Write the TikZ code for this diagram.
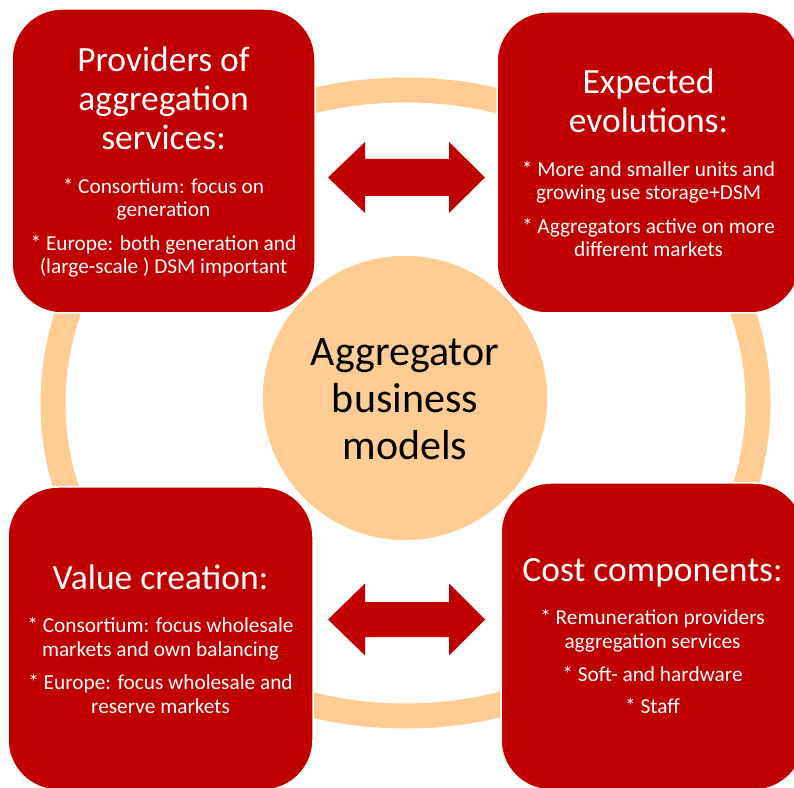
\documentclass[tikz,border=0pt]{standalone}
\usepackage{fontspec}
\setmainfont{Carlito}
\definecolor{boxred}{HTML}{C00000}
\definecolor{ringorange}{HTML}{FFCD93}
\begin{document}
\begin{tikzpicture}[x=1pt,y=1pt,
  redbox/.style={rectangle, rounded corners=50pt, fill=boxred, draw=white, line width=1.5pt, inner sep=0pt},
  titletext/.style={text=white, align=center, anchor=base, inner sep=0pt, font=\fontsize{35.5}{39}\selectfont},
  bodytext/.style={text=white, align=center, anchor=base, inner sep=0pt, font=\fontsize{21.3}{23.5}\selectfont},
  dblarrow/.style={fill=boxred}]
\useasboundingbox (0,0) rectangle (794,787);
\fill[white] (0,0) rectangle (794,787);
% ring
\draw[ringorange, line width=25pt] (405.5,384) ellipse [x radius=352.5, y radius=313];
% centre circle
\node[circle, fill=ringorange, draw=white, line width=1.5pt, minimum size=286pt, inner sep=0pt] (hub) at (405,389) {};
\node[anchor=base, align=center, inner sep=0pt, font=\fontsize{42}{47}\selectfont] (hubtext) at (405,327) {Aggregator\\business\\models};
% boxes
\node[redbox, minimum width=303pt, minimum height=304pt] (tl) at (163.5,626) {};
\node[redbox, minimum width=303pt, minimum height=301pt] (tr) at (648.5,624.5) {};
\node[redbox, minimum width=305pt, minimum height=303pt] (bl) at (160.5,148.5) {};
\node[redbox, minimum width=303pt, minimum height=307pt] (br) at (652.5,150.5) {};
% arrows
\fill[dblarrow] (328,609.5) -- (365,645) -- (365,628) -- (449,628) -- (449,645) -- (485,609.5) -- (449,574) -- (449,591) -- (365,591) -- (365,574) -- cycle;
\fill[dblarrow] (328,167.5) -- (365,203.5) -- (365,185) -- (449,185) -- (449,203.5) -- (485,167.5) -- (449,131.5) -- (449,150) -- (365,150) -- (365,131.5) -- cycle;
% texts (anchor base = baseline of the last line)
\node[titletext] (tlt) at (163.5,637) {Providers of\\aggregation\\services:};
\node[bodytext] (tlb) at (163.5,513) {* Consortium: focus on\\generation\\[10pt]* Europe: both generation and\\(large-scale ) DSM important};
\node[titletext] (trt) at (648.5,654) {Expected\\evolutions:};
\node[bodytext] (trb) at (648.5,530) {* More and smaller units and\\growing use storage+DSM\\[10pt]* Aggregators active on more\\different markets};
\node[titletext] (blt) at (160.5,197) {Value creation:};
\node[bodytext] (blb) at (160.5,74) {* Consortium: focus wholesale\\markets and own balancing\\[10pt]* Europe: focus wholesale and\\reserve markets};
\node[titletext] (brt) at (652.5,206) {Cost components:};
\node[bodytext] (brb) at (652.5,74) {* Remuneration providers\\aggregation services\\[10pt]* Soft- and hardware\\[8pt]* Staff};
\end{tikzpicture}
\end{document}
